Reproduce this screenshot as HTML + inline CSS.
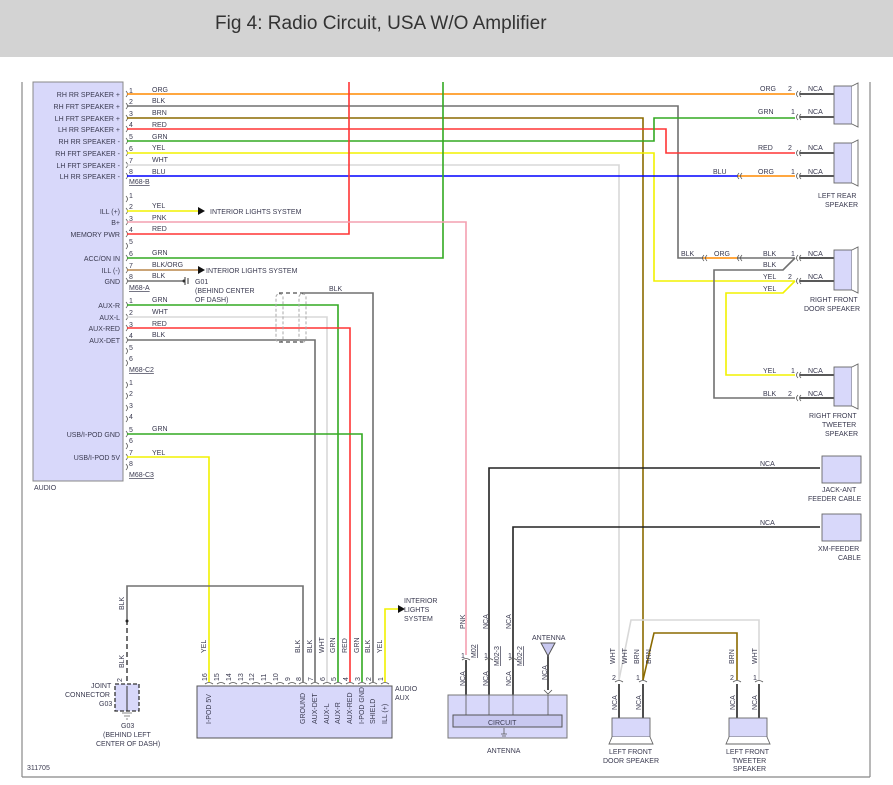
<!DOCTYPE html>
<html><head><meta charset="utf-8"><style>
html,body{margin:0;padding:0;background:#fff;}
svg{display:block;font-family:"Liberation Sans",sans-serif;}
.t{font-size:7px;fill:#3a3a50;}
.h{font-size:19px;fill:#333;}
</style></head><body>
<svg width="893" height="785" viewBox="0 0 893 785" xmlns="http://www.w3.org/2000/svg">
<rect x="0" y="0" width="893" height="57" fill="#d3d3d3"/>
<text x="215" y="29" class="h">Fig 4: Radio Circuit, USA W/O Amplifier</text>
<g stroke="#888" stroke-width="1.2" fill="none">
<line x1="22" y1="82" x2="22" y2="777"/>
<line x1="22" y1="777" x2="870" y2="777"/>
<line x1="870" y1="82" x2="870" y2="777"/>
</g>
<rect x="33" y="82" width="90" height="399" fill="#d8d8fa" stroke="#888"/>
<text x="34" y="490" class="t">AUDIO</text>
<g class="t" text-anchor="end">
<text x="120" y="97">RH RR SPEAKER +</text>
<text x="120" y="109">RH FRT SPEAKER +</text>
<text x="120" y="121">LH FRT SPEAKER +</text>
<text x="120" y="132">LH RR SPEAKER +</text>
<text x="120" y="144">RH RR SPEAKER -</text>
<text x="120" y="156">RH FRT SPEAKER -</text>
<text x="120" y="168">LH FRT SPEAKER -</text>
<text x="120" y="179">LH RR SPEAKER -</text>
<text x="120" y="214">ILL (+)</text>
<text x="120" y="225">B+</text>
<text x="120" y="237">MEMORY PWR</text>
<text x="120" y="261">ACC/ON IN</text>
<text x="120" y="273">ILL (-)</text>
<text x="120" y="284">GND</text>
<text x="120" y="308">AUX-R</text>
<text x="120" y="320">AUX-L</text>
<text x="120" y="331">AUX-RED</text>
<text x="120" y="343">AUX-DET</text>
<text x="120" y="437">USB/I-POD GND</text>
<text x="120" y="460">USB/I-POD 5V</text>
</g>
<g class="t">
<text x="129" y="93">1</text><text x="129" y="104">2</text><text x="129" y="116">3</text><text x="129" y="127">4</text><text x="129" y="139">5</text><text x="129" y="151">6</text><text x="129" y="163">7</text><text x="129" y="174">8</text>
<text x="129" y="184" text-decoration="underline">M68-B</text>
<text x="129" y="198">1</text><text x="129" y="209">2</text><text x="129" y="221">3</text><text x="129" y="232">4</text><text x="129" y="244">5</text><text x="129" y="256">6</text><text x="129" y="268">7</text><text x="129" y="279">8</text>
<text x="129" y="290" text-decoration="underline">M68-A</text>
<text x="129" y="303">1</text><text x="129" y="315">2</text><text x="129" y="327">3</text><text x="129" y="338">4</text><text x="129" y="350">5</text><text x="129" y="361">6</text>
<text x="129" y="372" text-decoration="underline">M68-C2</text>
<text x="129" y="385">1</text><text x="129" y="396">2</text><text x="129" y="408">3</text><text x="129" y="419">4</text><text x="129" y="432">5</text><text x="129" y="443">6</text><text x="129" y="455">7</text><text x="129" y="466">8</text>
<text x="129" y="477" text-decoration="underline">M68-C3</text>
</g>
<g stroke="#555" stroke-width="0.8" fill="none">
<path d="M126 91 q3 3 0 6M126 103 q3 3 0 6M126 115 q3 3 0 6M126 126 q3 3 0 6M126 138 q3 3 0 6M126 150 q3 3 0 6M126 162 q3 3 0 6M126 173 q3 3 0 6"/>
<path d="M126 196 q3 3 0 6M126 208 q3 3 0 6M126 219 q3 3 0 6M126 231 q3 3 0 6M126 243 q3 3 0 6M126 255 q3 3 0 6M126 267 q3 3 0 6M126 278 q3 3 0 6"/>
<path d="M126 302 q3 3 0 6M126 314 q3 3 0 6M126 325 q3 3 0 6M126 337 q3 3 0 6M126 348 q3 3 0 6M126 360 q3 3 0 6"/>
<path d="M126 382 q3 3 0 6M126 393 q3 3 0 6M126 405 q3 3 0 6M126 416 q3 3 0 6M126 431 q3 3 0 6M126 443 q3 3 0 6M126 454 q3 3 0 6M126 464 q3 3 0 6"/>
</g>
<g class="t">
<text x="152" y="92">ORG</text><text x="152" y="103">BLK</text><text x="152" y="115">BRN</text><text x="152" y="127">RED</text><text x="152" y="139">GRN</text><text x="152" y="150">YEL</text><text x="152" y="162">WHT</text><text x="152" y="174">BLU</text>
<text x="152" y="208">YEL</text><text x="152" y="220">PNK</text><text x="152" y="231">RED</text><text x="152" y="255">GRN</text><text x="152" y="267">BLK/ORG</text><text x="152" y="278">BLK</text>
<text x="152" y="302">GRN</text><text x="152" y="314">WHT</text><text x="152" y="326">RED</text><text x="152" y="337">BLK</text>
<text x="152" y="431">GRN</text><text x="152" y="455">YEL</text>
<text x="210" y="214">INTERIOR LIGHTS SYSTEM</text>
<text x="206" y="273">INTERIOR LIGHTS SYSTEM</text>
<text x="195" y="284">G01</text>
<text x="195" y="293">(BEHIND CENTER</text>
<text x="195" y="302">OF DASH)</text>
<text x="329" y="291">BLK</text>
</g>
<g fill="none" stroke-width="1.6">
<polyline points="127,94 795,94" stroke="#ff8a00"/>
<polyline points="127,106 678,106 678,258 703,258" stroke="#707070"/>
<polyline points="703,258 738,258" stroke="#ff8a00"/>
<polyline points="738,258 795,258" stroke="#707070"/>
<polyline points="127,118 643,118 643,680" stroke="#8b6a00"/>
<polyline points="127,129 666,129 666,153 795,153" stroke="#ff3535"/>
<polyline points="127,141 654,141 654,118 795,118" stroke="#33aa22"/>
<polyline points="127,153 654,153 654,281 795,281" stroke="#f2f200"/>
<polyline points="127,165 619,165 619,680" stroke="#d8d8d8"/>
<polyline points="127,176 738,176" stroke="#0000ff"/>
<polyline points="738,176 795,176" stroke="#ff8a00"/>
<polyline points="349,82 349,234 127,234" stroke="#ff3535"/>
<polyline points="443,82 443,258 127,258" stroke="#33aa22"/>
<polyline points="127,211 198,211" stroke="#f2f200"/>
<polyline points="127,222 466,222 466,655" stroke="#f4a0b0"/>
<polyline points="127,270 198,270" stroke="#b8864a"/>
<polyline points="127,281 183,281" stroke="#707070"/>
<polyline points="127,305 338,305 338,682" stroke="#33aa22"/>
<polyline points="127,317 327,317 327,682" stroke="#d8d8d8"/>
<polyline points="127,328 350,328 350,682" stroke="#ff3535"/>
<polyline points="127,340 315,340 315,682" stroke="#707070"/>
<polyline points="127,434 362,434 362,682" stroke="#33aa22"/>
<polyline points="127,457 209,457 209,682" stroke="#f2f200"/>
<polyline points="303,293 373,293 373,682" stroke="#707070"/>
<polyline points="303,682 303,586 127,586 127,620" stroke="#707070"/>
<polyline points="385,682 385,609 398,609" stroke="#f2f200"/>
<polyline points="795,258 783,270 714,270 714,398 795,398" stroke="#707070"/>
<polyline points="795,281 783,293 726,293 726,375 795,375" stroke="#f2f200"/>
<polyline points="643,680 654,633 737,633 737,680" stroke="#8b6a00"/>
<polyline points="619,680 631,620 759,620 759,680" stroke="#d8d8d8"/>
<polyline points="820,468 489,468 489,695" stroke="#222"/>
<polyline points="820,527 513,527 513,695" stroke="#222"/>
<polyline points="466,660 466,695" stroke="#222"/>
<polyline points="548,652 548,690" stroke="#222"/>
<g stroke="#222">
<line x1="800" y1="94" x2="835" y2="94"/><line x1="800" y1="117" x2="835" y2="117"/>
<line x1="800" y1="153" x2="835" y2="153"/><line x1="800" y1="176" x2="835" y2="176"/>
<line x1="800" y1="258" x2="835" y2="258"/><line x1="800" y1="281" x2="835" y2="281"/>
<line x1="800" y1="375" x2="835" y2="375"/><line x1="800" y1="398" x2="835" y2="398"/>
<line x1="619" y1="684" x2="619" y2="722"/><line x1="643" y1="684" x2="643" y2="722"/>
<line x1="737" y1="684" x2="737" y2="722"/><line x1="759" y1="684" x2="759" y2="722"/>
</g>
</g>
<g fill="#111">
<polygon points="198,207 205,211 198,215"/>
<polygon points="198,266 205,270 198,274"/>
<polygon points="398,605 405,609 398,613"/>
</g>
<g stroke="#333" stroke-width="1"><line x1="185" y1="277" x2="185" y2="285"/><line x1="188" y1="278" x2="188" y2="284"/><circle cx="184" cy="281" r="1" fill="#333"/></g>
<g fill="none" stroke="#aaa" stroke-dasharray="3,2">
<rect x="276" y="294" width="7" height="48" rx="3"/>
<rect x="299" y="294" width="7" height="48" rx="3"/>
</g>
<path d="M279 293 H303 M279 342 H303" stroke="#222" stroke-dasharray="4,3" fill="none"/>
<g stroke="#555" stroke-width="0.8" fill="none">
<path d="M798 91 q-3 3 0 6M801 91 q-3 3 0 6M798 114 q-3 3 0 6M801 114 q-3 3 0 6M798 150 q-3 3 0 6M801 150 q-3 3 0 6M798 173 q-3 3 0 6M801 173 q-3 3 0 6"/>
<path d="M739 173 q-3 3 0 6M742 173 q-3 3 0 6M704 255 q-3 3 0 6M707 255 q-3 3 0 6M739 255 q-3 3 0 6M742 255 q-3 3 0 6"/>
<path d="M798 255 q-3 3 0 6M801 255 q-3 3 0 6M798 278 q-3 3 0 6M801 278 q-3 3 0 6M798 372 q-3 3 0 6M801 372 q-3 3 0 6M798 395 q-3 3 0 6M801 395 q-3 3 0 6"/>
</g>
<g fill="#d8d8fa" stroke="#666" stroke-width="0.9">
<rect x="834" y="86" width="18" height="38"/><path d="M852 86 L858 83 V127 L852 124" fill="#fff"/>
<rect x="834" y="143" width="18" height="40"/><path d="M852 143 L858 140 V186 L852 183" fill="#fff"/>
<rect x="834" y="250" width="18" height="40"/><path d="M852 250 L858 247 V293 L852 290" fill="#fff"/>
<rect x="834" y="367" width="18" height="39"/><path d="M852 367 L858 364 V409 L852 406" fill="#fff"/>
<rect x="822" y="456" width="39" height="27"/>
<rect x="822" y="514" width="39" height="27"/>
</g>
<g class="t">
<text x="760" y="91">ORG</text><text x="788" y="91">2</text><text x="808" y="91">NCA</text>
<text x="758" y="114">GRN</text><text x="791" y="114">1</text><text x="808" y="114">NCA</text>
<text x="758" y="150">RED</text><text x="788" y="150">2</text><text x="808" y="150">NCA</text>
<text x="713" y="174">BLU</text><text x="758" y="174">ORG</text><text x="791" y="174">1</text><text x="808" y="174">NCA</text>
<text x="818" y="198">LEFT REAR</text><text x="825" y="207">SPEAKER</text>
<text x="681" y="256">BLK</text><text x="714" y="256">ORG</text><text x="763" y="256">BLK</text><text x="791" y="256">1</text><text x="808" y="256">NCA</text>
<text x="763" y="267">BLK</text>
<text x="763" y="279">YEL</text><text x="788" y="279">2</text><text x="808" y="279">NCA</text>
<text x="763" y="291">YEL</text>
<text x="810" y="302">RIGHT FRONT</text><text x="804" y="311">DOOR SPEAKER</text>
<text x="763" y="373">YEL</text><text x="791" y="373">1</text><text x="808" y="373">NCA</text>
<text x="763" y="396">BLK</text><text x="788" y="396">2</text><text x="808" y="396">NCA</text>
<text x="809" y="418">RIGHT FRONT</text><text x="822" y="427">TWEETER</text><text x="825" y="436">SPEAKER</text>
<text x="760" y="466">NCA</text><text x="760" y="525">NCA</text>
<text x="822" y="492">JACK-ANT</text><text x="808" y="501">FEEDER CABLE</text>
<text x="818" y="551">XM-FEEDER</text><text x="838" y="560">CABLE</text>
</g>
<g stroke="#333" fill="none">
<line x1="127" y1="620" x2="127" y2="684" stroke-dasharray="5,3" stroke-width="1.4"/>
<rect x="115" y="684" width="24" height="27" fill="#d8d8fa" stroke-dasharray="4,2" stroke-width="1.3"/>
<line x1="127" y1="686" x2="127" y2="711"/>
</g>
<circle cx="127" cy="621" r="1.5" fill="#222"/>
<path d="M122 713 h10 M124 716 h6 M126 719 h2" stroke="#888"/>
<g class="t">
<text transform="translate(124,610) rotate(-90)">BLK</text>
<text transform="translate(124,668) rotate(-90)">BLK</text>
<text transform="translate(122,682) rotate(-90)">2</text>
<text x="91" y="688">JOINT</text><text x="65" y="697">CONNECTOR</text><text x="99" y="706">G03</text>
<text x="121" y="728">G03</text><text x="103" y="737">(BEHIND LEFT</text><text x="96" y="746">CENTER OF DASH)</text>
<text x="27" y="770">311705</text>
</g>
<rect x="197" y="686" width="195" height="52" fill="#d8d8fa" stroke="#555"/>
<g stroke="#555" stroke-width="0.8" fill="none">
<path d="M205 684 q4 -3 8 0M217 684 q4 -3 8 0M229 684 q4 -3 8 0M241 684 q4 -3 8 0M252 684 q4 -3 8 0M264 684 q4 -3 8 0M276 684 q4 -3 8 0M288 684 q4 -3 8 0M299 684 q4 -3 8 0M311 684 q4 -3 8 0M323 684 q4 -3 8 0M334 684 q4 -3 8 0M346 684 q4 -3 8 0M358 684 q4 -3 8 0M369 684 q4 -3 8 0M381 684 q4 -3 8 0"/>
</g>
<g class="t">
<text transform="translate(207,681) rotate(-90)">16</text><text transform="translate(219,681) rotate(-90)">15</text><text transform="translate(231,681) rotate(-90)">14</text><text transform="translate(243,681) rotate(-90)">13</text><text transform="translate(254,681) rotate(-90)">12</text><text transform="translate(266,681) rotate(-90)">11</text><text transform="translate(278,681) rotate(-90)">10</text><text transform="translate(290,681) rotate(-90)">9</text><text transform="translate(301,681) rotate(-90)">8</text><text transform="translate(313,681) rotate(-90)">7</text><text transform="translate(325,681) rotate(-90)">6</text><text transform="translate(336,681) rotate(-90)">5</text><text transform="translate(348,681) rotate(-90)">4</text><text transform="translate(360,681) rotate(-90)">3</text><text transform="translate(371,681) rotate(-90)">2</text><text transform="translate(383,681) rotate(-90)">1</text>
<text transform="translate(206,653) rotate(-90)">YEL</text>
<text transform="translate(300,653) rotate(-90)">BLK</text><text transform="translate(312,653) rotate(-90)">BLK</text><text transform="translate(324,653) rotate(-90)">WHT</text><text transform="translate(335,653) rotate(-90)">GRN</text><text transform="translate(347,653) rotate(-90)">RED</text><text transform="translate(359,653) rotate(-90)">GRN</text><text transform="translate(370,653) rotate(-90)">BLK</text><text transform="translate(382,653) rotate(-90)">YEL</text>
<text transform="translate(211,724) rotate(-90)">I-POD 5V</text>
<text transform="translate(305,724) rotate(-90)">GROUND</text><text transform="translate(317,724) rotate(-90)">AUX-DET</text><text transform="translate(329,724) rotate(-90)">AUX-L</text><text transform="translate(340,724) rotate(-90)">AUX-R</text><text transform="translate(352,724) rotate(-90)">AUX-RED</text><text transform="translate(364,724) rotate(-90)">I-POD GND</text><text transform="translate(375,724) rotate(-90)">SHIELD</text><text transform="translate(387,724) rotate(-90)">ILL (+)</text>
<text x="395" y="691">AUDIO</text><text x="395" y="700">AUX</text>
<text x="404" y="603">INTERIOR</text><text x="404" y="612">LIGHTS</text><text x="404" y="621">SYSTEM</text>
</g>
<rect x="448" y="695" width="119" height="43" fill="#d8d8fa" stroke="#777"/>
<rect x="453" y="715" width="109" height="12" fill="#c8c8f0" stroke="#555"/>
<g stroke="#555" stroke-width="0.8">
<line x1="466" y1="695" x2="466" y2="715"/><line x1="489" y1="695" x2="489" y2="715"/><line x1="513" y1="695" x2="513" y2="715"/><line x1="548" y1="695" x2="548" y2="715"/>
<path d="M462 660 q4 -3 8 0M485 660 q4 -3 8 0M509 660 q4 -3 8 0M544 690 l4 4 l4 -4" fill="none"/>
<path d="M504 728 v6 M501 734 h6 M502 736 h4" fill="none"/>
</g>
<polygon points="541,643 555,643 548,656" fill="#c8c8f0" stroke="#555"/>
<g class="t">
<text x="488" y="725">CIRCUIT</text><text x="487" y="753">ANTENNA</text><text x="532" y="640">ANTENNA</text>
<text transform="translate(465,629) rotate(-90)">PNK</text>
<text transform="translate(488,629) rotate(-90)">NCA</text><text transform="translate(511,629) rotate(-90)">NCA</text>
<text x="461" y="658">1</text><text x="484" y="658">1</text><text x="508" y="658">1</text>
<text transform="translate(476,658) rotate(-90)" text-decoration="underline">M02</text>
<text transform="translate(499,666) rotate(-90)" text-decoration="underline">M02-3</text>
<text transform="translate(522,666) rotate(-90)" text-decoration="underline">M02-2</text>
<text transform="translate(465,686) rotate(-90)">NCA</text><text transform="translate(488,686) rotate(-90)">NCA</text><text transform="translate(511,686) rotate(-90)">NCA</text><text transform="translate(547,680) rotate(-90)">NCA</text>
</g>
<g fill="#d8d8fa" stroke="#666" stroke-width="0.9">
<rect x="612" y="718" width="38" height="19"/><path d="M612 737 L609 744 H653 L650 737" fill="#fff"/>
<rect x="729" y="718" width="38" height="19"/><path d="M729 737 L726 744 H770 L767 737" fill="#fff"/>
</g>
<g stroke="#555" stroke-width="0.8" fill="none">
<path d="M615 682 q4 -3 8 0M639 682 q4 -3 8 0M733 682 q4 -3 8 0M755 682 q4 -3 8 0"/>
</g>
<g class="t">
<text transform="translate(615,664) rotate(-90)">WHT</text><text transform="translate(627,664) rotate(-90)">WHT</text><text transform="translate(639,664) rotate(-90)">BRN</text><text transform="translate(651,664) rotate(-90)">BRN</text>
<text transform="translate(734,664) rotate(-90)">BRN</text><text transform="translate(757,664) rotate(-90)">WHT</text>
<text x="612" y="680">2</text><text x="636" y="680">1</text><text x="730" y="680">2</text><text x="753" y="680">1</text>
<text transform="translate(617,710) rotate(-90)">NCA</text><text transform="translate(641,710) rotate(-90)">NCA</text><text transform="translate(735,710) rotate(-90)">NCA</text><text transform="translate(757,710) rotate(-90)">NCA</text>
<text x="609" y="754">LEFT FRONT</text><text x="603" y="763">DOOR SPEAKER</text>
<text x="726" y="754">LEFT FRONT</text><text x="732" y="763">TWEETER</text><text x="733" y="771">SPEAKER</text>
</g>
</svg>
</body></html>
